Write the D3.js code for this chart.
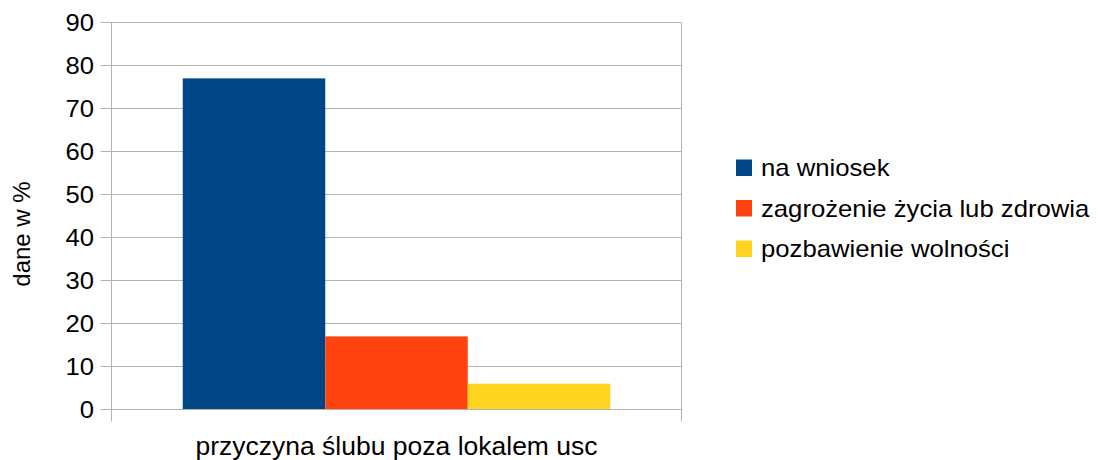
<!DOCTYPE html>
<html><head><meta charset="utf-8">
<script src="https://cdn.jsdelivr.net/npm/d3@7"></script>
<style>
body{margin:0;background:#fff;}
text{font-family:"Liberation Sans",Arial,sans-serif;fill:#000;}
</style></head>
<body>
<svg id="c" width="1099" height="460"></svg>
<script>
const categories = ["przyczyna ślubu poza lokalem usc"];
const seriesNames = ["na wniosek", "zagrożenie życia lub zdrowia", "pozbawienie wolności"];
const seriesValues = [77, 17, 6];
const seriesColors = ["#004586", "#ff420e", "#ffd320"];
const yTicks = [0, 10, 20, 30, 40, 50, 60, 70, 80, 90];
const yTitle = "dane w %";

const svg = d3.select("#c");
const L = 111.5, R = 681.5, T = 22.5, B = 409.5;
const x0 = d3.scaleBand().domain(categories).range([L, R]).paddingInner(0.25).paddingOuter(0.125);
const x1 = d3.scaleBand().domain(seriesNames).range([0, x0.bandwidth()]);
const y = d3.scaleLinear().domain([0, 90]).range([B, T]);
const grid = "#b3b3b3";

function stretch(sel, f) {
  sel.each(function () {
    const w = this.getComputedTextLength();
    d3.select(this).attr("textLength", w * f).attr("lengthAdjust", "spacingAndGlyphs");
  });
}

// gridlines
svg.append("g").selectAll("line").data(yTicks).join("line")
  .attr("x1", L - 11).attr("x2", R).attr("y1", d => y(d)).attr("y2", d => y(d))
  .attr("stroke", grid).attr("stroke-width", 1);

// bars
svg.append("g").selectAll("rect").data(seriesValues).join("rect")
  .attr("x", (d, i) => x0(categories[0]) + x1(seriesNames[i]))
  .attr("width", x1.bandwidth())
  .attr("y", d => y(d))
  .attr("height", d => y(0) - y(d))
  .attr("fill", (d, i) => seriesColors[i]);

// axes lines
svg.append("line").attr("x1", L).attr("x2", L).attr("y1", T).attr("y2", B + 12).attr("stroke", grid);
svg.append("line").attr("x1", R).attr("x2", R).attr("y1", T).attr("y2", B + 12).attr("stroke", grid);
svg.append("line").attr("x1", L).attr("x2", R).attr("y1", B).attr("y2", B).attr("stroke", grid);

// y tick labels
svg.append("g").selectAll("text").data(yTicks).join("text")
  .attr("x", 94).attr("y", d => y(d)).attr("dy", "0.36em")
  .attr("text-anchor", "end").style("font-size", "23.5px").text(d => d)
  .call(stretch, 1.09);

// x category label
svg.append("text").attr("x", x0(categories[0]) + x0.bandwidth() / 2).attr("y", 455)
  .attr("text-anchor", "middle").style("font-size", "25px").text(categories[0])
  .call(stretch, 1.06);

// y title
svg.append("text").attr("transform", "translate(30,234) rotate(-90)")
  .attr("text-anchor", "middle").style("font-size", "24px").text(yTitle);

// legend
const lg = svg.append("g").selectAll("g").data(seriesNames).join("g")
  .attr("transform", (d, i) => `translate(736,${159.5 + i * 40.5})`);
lg.append("rect").attr("width", 16).attr("height", 16.5).attr("fill", (d, i) => seriesColors[i]);
lg.append("text").attr("x", 25).attr("y", 8).attr("dy", "0.36em")
  .style("font-size", "24px").text(d => d)
  .call(stretch, 1.07);
</script>
</body></html>
